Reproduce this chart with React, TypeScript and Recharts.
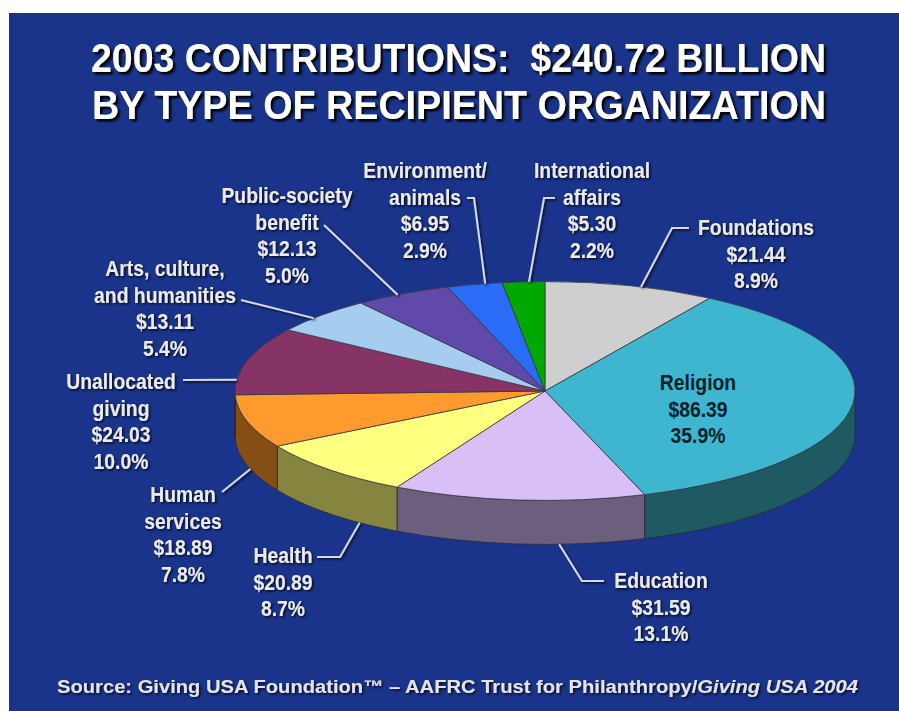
import { PieChart, Pie } from 'recharts';

const categories = [
  'Foundations', 'Religion', 'Education', 'Health', 'Human services',
  'Unallocated giving', 'Arts, culture, and humanities', 'Public-society benefit',
  'Environment/animals', 'International affairs',
];
const values = [21.44, 86.39, 31.59, 20.89, 18.89, 24.03, 13.11, 12.13, 6.95, 5.3];
const percents = ['8.9%', '35.9%', '13.1%', '8.7%', '7.8%', '10.0%', '5.4%', '5.0%', '2.9%', '2.2%'];
const nameLines = [
  ['Foundations'], ['Religion'], ['Education'], ['Health'], ['Human', 'services'],
  ['Unallocated', 'giving'], ['Arts, culture,', 'and humanities'], ['Public-society', 'benefit'],
  ['Environment/', 'animals'], ['International', 'affairs'],
];
const topColors = ['#cfcfcf', '#3fb6cf', '#d8bff6', '#ffff80', '#ff9a2e', '#863366', '#a6cdf0', '#6049a8', '#2a6cf5', '#00a800'];
const sideColors = ['#7d7d7d', '#1f5a63', '#6c5f7d', '#85853f', '#854e14', '#4d1f3c', '#5f7a90', '#3a2c66', '#1a4294', '#006600'];

// where each text block and its leader line sit on the slide
const CX = 545;
const CY = 391;
const RADIUS = 310;
const SQUASH = 0.353;
const DEPTH = 44;
const TEXT_NARROW = 0.86;
const labelLayout = [
  { x: 756, y: 235, turn: 2, wall: false, leader: [[672, 228], [689, 228]] },
  { x: 698, y: 390, turn: 0, wall: false, leader: [] },
  { x: 661, y: 588, turn: -7.5, wall: true, leader: [[582, 581], [604, 581]] },
  { x: 283, y: 563, turn: -7.4, wall: true, leader: [[340, 557], [317, 557]] },
  { x: 183, y: 502, turn: -2, wall: true, leader: [[222, 492]] },
  { x: 121, y: 389, turn: -10, wall: false, leader: [[183, 380]] },
  { x: 165, y: 276, turn: -2, wall: false, leader: [[241, 300]] },
  { x: 287, y: 203, turn: -1, wall: false, leader: [[324, 225]] },
  { x: 425, y: 178, turn: 2, wall: false, leader: [[474, 198], [467, 198]] },
  { x: 592, y: 178, turn: 1, wall: false, leader: [[544, 198], [555, 198]] },
];

const topRows = categories.map((name, i) => ({ name, value: values[i], fill: topColors[i] }));
const sideRows = categories.map((name, i) => ({ name, value: values[i], fill: sideColors[i] }));

const SANS = "'Liberation Sans', Arial, sans-serif";

const rad = (deg: number) => (deg * Math.PI) / 180;
const ex = (cx: number, r: number, a: number) => cx + r * Math.cos(rad(a));
const ey = (cy: number, r: number, a: number) => cy - r * SQUASH * Math.sin(rad(a));

// Recharts hands out circular sectors, squash them to get the tilted disc
function TopSlice(props: any) {
  const { cx, cy, outerRadius: r, startAngle, endAngle, fill } = props;
  const large = Math.abs(startAngle - endAngle) > 180 ? 1 : 0;
  const d = `M${cx},${cy} L${ex(cx, r, startAngle)},${ey(cy, r, startAngle)} A${r},${r * SQUASH} 0 ${large} 1 ${ex(cx, r, endAngle)},${ey(cy, r, endAngle)} Z`;
  return <path d={d} fill={fill} stroke="#3a3a44" strokeWidth={0.8} strokeLinejoin="round" />;
}

// the wall only shows on the front half, math angles 0 to -180
function WallSlice(props: any) {
  const { cx, cy, outerRadius: r, startAngle, endAngle, fill } = props;
  const a = Math.min(startAngle, 0);
  const b = Math.max(endAngle, -180);
  if (a <= b) return <g />;
  const rx = r;
  const ry = r * SQUASH;
  const d = `M${ex(cx, r, a)},${ey(cy, r, a)} A${rx},${ry} 0 0 1 ${ex(cx, r, b)},${ey(cy, r, b)} L${ex(cx, r, b)},${ey(cy, r, b) + DEPTH} A${rx},${ry} 0 0 0 ${ex(cx, r, a)},${ey(cy, r, a) + DEPTH} Z`;
  return <path d={d} fill={fill} stroke="#2a2a34" strokeWidth={0.8} strokeLinejoin="round" />;
}

function SliceLabel(props: any) {
  const { cx, cy, outerRadius: r, midAngle, index } = props;
  const layout = labelLayout[index];
  const lines = [...nameLines[index], `$${values[index].toFixed(2)}`, percents[index]];
  const inside = index === 1;
  const a = midAngle - layout.turn;
  const startX = ex(cx, r, a);
  const startY = ey(cy, r, a) + (layout.wall ? DEPTH : 0);
  const points = [[startX, startY], ...layout.leader].map((p) => p.join(',')).join(' ');
  return (
    <g filter={inside ? undefined : 'url(#softShadow)'}>
      {layout.leader.length > 0 && (
        <polyline points={points} fill="none" stroke="#d5d9e8" strokeWidth={2} />
      )}
      {lines.map((line, i) => (
        <text
          key={line}
          transform={`translate(${layout.x},${layout.y + i * 26.7}) scale(${TEXT_NARROW},1)`}
          textAnchor="middle"
          fontFamily={SANS}
          fontSize={22.5}
          fontWeight={700}
          fill={inside ? '#06202c' : '#ebebeb'}
        >
          {line}
        </text>
      ))}
    </g>
  );
}

export default function App() {
  return (
    <div style={{ position: 'absolute', left: 0, top: 0, width: 899, height: 711, background: '#fff', overflow: 'hidden' }}>
      <div style={{ position: 'absolute', left: 9, top: 13, width: 890, height: 698, background: '#1a348c' }} />
      <div style={{ position: 'absolute', left: 0, top: 0 }}>
        <PieChart width={899} height={711} margin={{ top: 0, right: 0, bottom: 0, left: 0 }}>
          <defs>
            <filter id="softShadow" x="-20%" y="-20%" width="140%" height="140%">
              <feDropShadow dx={1.5} dy={1.5} stdDeviation={0.8} floodColor="#000" floodOpacity={0.8} />
            </filter>
            <filter id="titleShadow" x="-5%" y="-20%" width="110%" height="140%">
              <feDropShadow dx={2.5} dy={2.5} stdDeviation={0.8} floodColor="#000" floodOpacity={1} />
            </filter>
          </defs>
          <g filter="url(#titleShadow)" fontFamily={SANS} fontWeight={700} fontSize={40} fill="#fff">
            <text x={91} y={72} textLength={735} lengthAdjust="spacingAndGlyphs" style={{ whiteSpace: 'pre' }}>
              2003 CONTRIBUTIONS:  $240.72 BILLION
            </text>
            <text x={92} y={119} textLength={734} lengthAdjust="spacingAndGlyphs">
              BY TYPE OF RECIPIENT ORGANIZATION
            </text>
          </g>
          <Pie
            data={sideRows}
            dataKey="value"
            nameKey="name"
            cx={CX}
            cy={CY}
            outerRadius={RADIUS}
            startAngle={90}
            endAngle={-270}
            paddingAngle={0}
            shape={WallSlice}
            isAnimationActive={false}
          />
          <Pie
            data={topRows}
            dataKey="value"
            nameKey="name"
            cx={CX}
            cy={CY}
            outerRadius={RADIUS}
            startAngle={90}
            endAngle={-270}
            paddingAngle={0}
            shape={TopSlice}
            label={SliceLabel}
            labelLine={false}
            isAnimationActive={false}
          />
          <text
            x={57}
            y={693}
            textLength={801}
            lengthAdjust="spacingAndGlyphs"
            fontFamily={SANS}
            fontSize={18}
            fontWeight={700}
            fill="#e4e4e8"
            filter="url(#softShadow)"
          >
            Source: Giving USA Foundation™ – AAFRC Trust for Philanthropy/<tspan fontStyle="italic">Giving USA 2004</tspan>
          </text>
        </PieChart>
      </div>
    </div>
  );
}
